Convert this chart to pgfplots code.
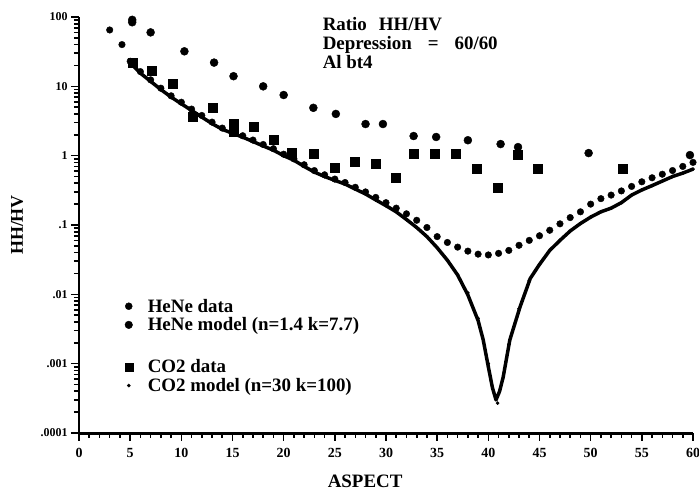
\documentclass[border=0pt]{standalone}
\usepackage{fontspec}
\setmainfont{Liberation Serif}
\usepackage{pgfplots}
\pgfplotsset{compat=1.18}

\begin{document}
\begin{tikzpicture}
\begin{axis}[
  name=ax,
  scale only axis, width=614bp, height=416bp,
  xmin=0, xmax=60, ymode=log, ymin=1e-4, ymax=100,
  clip=false,
  axis lines*=left,
  axis line style={line width=3pt},
  xtick={0,5,...,60}, minor x tick num=4,
  ytick={1e-4,1e-3,1e-2,1e-1,1,10,100},
  yticklabels={.0001,.001,.01,.1,1,10,100},
  minor ytick={2e-4,3e-4,4e-4,5e-4,6e-4,7e-4,8e-4,9e-4,
               2e-3,3e-3,4e-3,5e-3,6e-3,7e-3,8e-3,9e-3,
               2e-2,3e-2,4e-2,5e-2,6e-2,7e-2,8e-2,9e-2,
               .2,.3,.4,.5,.6,.7,.8,.9,2,3,4,5,6,7,8,9,
               20,30,40,50,60,70,80,90},
  tick align=outside, major tick length=8bp, minor tick length=5bp,
  every tick/.style={black, line width=1.6pt},
  xticklabel style={font=\fontsize{14}{14}\selectfont\bfseries, yshift=-4bp},
  yticklabel style={font=\fontsize{12}{12}\selectfont\bfseries},
  /pgf/number format/assume math mode=true,
  xlabel={ASPECT},
  xlabel style={at={(axis description cs:0.466,-0.115)}, anchor=center,
    font=\fontsize{19}{19}\selectfont\bfseries},
  ylabel={HH/HV},
  ylabel style={at={(axis description cs:-0.101,0.5)}, anchor=center,
    font=\fontsize{18}{18}\selectfont\bfseries},
  legend style={at={(axis description cs:0.062,0.33)}, anchor=north west,
    draw=none, fill=none, font=\fontsize{19}{19}\selectfont\bfseries,
    row sep=2bp, column sep=14bp, nodes={inner sep=1bp}},
  legend cell align=left,
]
% CO2 model
\addplot[black, line width=3.5pt, line join=round, forget plot] coordinates {
(5,22) (6,15.5) (7,11.8) (8,9.0) (9,7.0) (10,5.6) (11,4.5) (12,3.6) (13,2.9)
(14,2.4) (15,2.1) (16,1.85) (17,1.6) (18,1.38) (19,1.2) (20,1.0) (21,0.86)
(22,0.7) (23,0.58) (24,0.5) (25,0.44) (26,0.39) (27,0.33) (28,0.28) (29,0.23)
(30,0.19) (31,0.155) (32,0.12) (33,0.092) (34,0.068) (35,0.047) (36,0.031)
(37,0.019) (38,0.0098) (39,0.0042) (39.5,0.0022) (40,0.0009) (40.4,0.00045)
(40.75,0.0003) (41.1,0.0004) (41.45,0.00064) (42.1,0.0022) (43.1,0.0066)
(44.1,0.017) (45,0.027) (46,0.043) (47,0.06) (48,0.082) (49,0.105) (50,0.13)
(51,0.155) (52,0.175) (53,0.21) (54,0.27) (55,0.32) (56,0.37) (57,0.43)
(58,0.5) (59,0.56) (60,0.64)};
\addplot[only marks, mark=*, mark size=1.6bp, black, forget plot] coordinates {
(5,22) (6,15.5) (7,11.8) (8,9.0) (9,7.0) (10,5.6) (11,4.5) (12,3.6) (13,2.9)
(14,2.4) (15,2.1) (16,1.85) (17,1.6) (18,1.38) (19,1.2) (20,1.0) (21,0.86)
(22,0.7) (23,0.58) (24,0.5) (25,0.44) (26,0.39) (27,0.33) (28,0.28) (29,0.23)
(30,0.19) (31,0.155) (32,0.12) (33,0.092) (34,0.068) (35,0.047) (36,0.031)
(37,0.019) (38,0.0105) (39,0.0045) (40,0.0010) (40.9,0.00027) (42,0.0019)
(43,0.0062) (44,0.016) (45,0.027) (46,0.043) (47,0.06) (48,0.082) (49,0.105)
(50,0.13) (51,0.155) (52,0.175) (53,0.21) (54,0.27) (55,0.32) (56,0.37)
(57,0.43) (58,0.5) (59,0.56) (60,0.64)};
% HeNe model
\addplot[only marks, mark=*, mark size=3.3bp, black, forget plot] coordinates {
(3,65) (4.2,40) (5,23) (6,16.3) (7,12.4) (8,9.4) (9,7.3) (10,5.9) (11,4.7)
(12,3.8) (13,3.05) (14,2.5) (15,2.2) (16,1.94) (17,1.68) (18,1.45) (19,1.26)
(20,1.05) (21,0.9) (22,0.74) (23,0.61) (24,0.53) (25,0.46) (26,0.41)
(27,0.35) (28,0.3) (29,0.25) (30,0.21) (31,0.175) (32,0.145) (33,0.117)
(34,0.092) (35,0.068) (36,0.056) (37,0.048) (38,0.042) (39,0.038) (40,0.037)
(41,0.039) (42,0.043) (43,0.051) (44,0.06) (45,0.07) (46,0.084) (47,0.104)
(48,0.128) (49,0.155) (50,0.2) (51,0.24) (52,0.27) (53,0.31) (54,0.36)
(55,0.42) (56,0.48) (57,0.54) (58,0.61) (59,0.7) (60,0.8)};
% CO2 data
\addplot[only marks, mark=square*, mark size=4.5bp, black, forget plot] coordinates {
(5.2,22) (7.1,17) (9.2,11) (11.1,3.7) (13.1,4.9) (15.1,2.86) (15.1,2.2)
(17.1,2.6) (19,1.68) (20.8,1.09) (22.9,1.06) (25,0.68) (26.9,0.81) (29,0.76)
(30.9,0.48) (32.7,1.06) (34.8,1.06) (36.8,1.06) (38.9,0.64) (40.9,0.34)
(42.9,1.02) (44.8,0.64) (53.1,0.64)};
% HeNe data
\addplot[only marks, mark=*, mark size=4bp, black, forget plot] coordinates {
(5.2,91) (5.2,84) (7,60) (10.3,32) (13.2,22) (15.1,14) (18,10) (20,7.5)
(22.9,4.9) (25.1,4) (28,2.86) (29.7,2.86) (32.7,1.92) (34.9,1.86) (38,1.67)
(41.2,1.47) (42.9,1.33) (49.8,1.09) (59.7,1.02)};

\addlegendimage{only marks, mark=*, mark size=3.5bp, black}
\addlegendentry{HeNe data}
\addlegendimage{only marks, mark=*, mark size=3.8bp, black}
\addlegendentry{HeNe model (n=1.4 k=7.7)}
\addlegendimage{empty legend}
\addlegendentry{\rule{0pt}{18bp}}
\addlegendimage{only marks, mark=square*, mark size=4bp, black}
\addlegendentry{CO2 data}
\addlegendimage{only marks, mark=*, mark size=1.6bp, black}
\addlegendentry{CO2 model (n=30 k=100)}

\node[anchor=north west, align=left, inner sep=0pt,
  font=\fontsize{19}{19}\selectfont\bfseries] at (axis cs:23.8,100)
  {Ratio\hspace{12bp}HH/HV\\Depression\hspace{16bp}=\hspace{16bp}60/60\\Al bt4};
\end{axis}
\pgfresetboundingbox
\path[use as bounding box] ([xshift=-79bp,yshift=-61bp]ax.south west)
  rectangle ([xshift=6bp,yshift=17bp]ax.north east);
\end{tikzpicture}
\end{document}
